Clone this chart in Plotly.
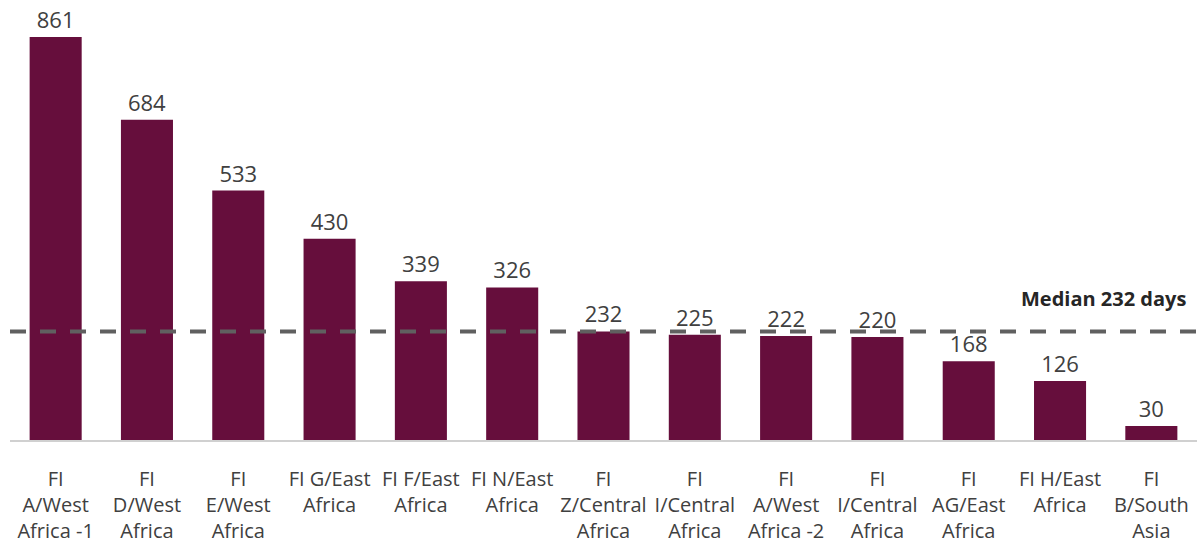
import plotly.graph_objects as go

categories = [
    "FI<br>A/West<br>Africa -1", "FI<br>D/West<br>Africa", "FI<br>E/West<br>Africa",
    "FI G/East<br>Africa", "FI F/East<br>Africa", "FI N/East<br>Africa",
    "FI<br>Z/Central<br>Africa", "FI<br>I/Central<br>Africa", "FI<br>A/West<br>Africa -2",
    "FI<br>I/Central<br>Africa", "FI<br>AG/East<br>Africa", "FI H/East<br>Africa",
    "FI<br>B/South<br>Asia",
]
days = [861, 684, 533, 430, 339, 326, 232, 225, 222, 220, 168, 126, 30]
median_days = 232
median_label = "Median 232 days"

positions = list(range(len(categories)))
bar_color = "#660E3C"
text_color = "#404040"

fig = go.Figure()
fig.add_trace(go.Bar(
    x=positions, y=days,
    marker=dict(color=bar_color, line=dict(width=0)),
    text=[str(v) for v in days], textposition="outside",
    textfont=dict(family="Open Sans", size=22, color=text_color),
    cliponaxis=False, width=0.57,
))

fig.add_shape(type="line", xref="paper", x0=0, x1=1, yref="y", y0=median_days, y1=median_days,
              line=dict(color="#606060", width=4, dash="16px,14px"))
fig.add_annotation(xref="paper", x=0.992, xanchor="right", yref="y", y=median_days, yanchor="bottom",
                   yshift=17, text="<b>" + median_label + "</b>", showarrow=False,
                   font=dict(family="Open Sans", size=20, color="#262626"))

fig.update_layout(
    width=1198, height=545,
    margin=dict(l=10, r=1, t=0, b=105),
    plot_bgcolor="white", paper_bgcolor="white",
    showlegend=False,
    xaxis=dict(tickvals=positions, ticktext=categories, range=[-0.5, len(categories) - 0.5],
               showline=True, linecolor="#D0D0D0", linewidth=2, ticks="", showgrid=False,
               ticklabelstandoff=20,
               tickfont=dict(family="Open Sans", size=20, color=text_color), tickangle=0),
    yaxis=dict(range=[0, 940], visible=False, showgrid=False, zeroline=False),
)

fig.write_html("out.html", config={"displayModeBar": False},
               post_script="document.body.style.margin='0px';")
